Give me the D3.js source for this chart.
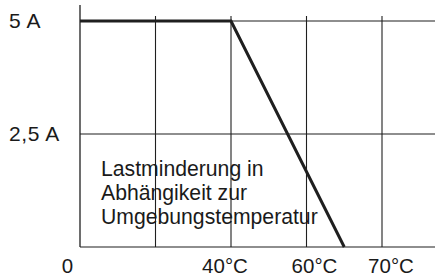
<!DOCTYPE html>
<html>
<head>
<meta charset="utf-8">
<script src="https://cdn.jsdelivr.net/npm/d3@7"></script>
<style>
  html, body { margin: 0; padding: 0; background: #fff; }
  svg { display: block; }
  text { font-family: "Liberation Sans", Arial, sans-serif; fill: #1a1a1a; }
</style>
</head>
<body>
<svg id="chart" width="435" height="276"></svg>
<script>
// Data
const temperatures = [0, 40, 70];          // °C
const currents = [5, 5, 0];                // A
const xGridValues = [0, 20, 40, 60, 80];
const xTickValues = [0, 40, 60, 80];
const xTickLabels = ["0", "40°C", "60°C", "70°C"];
const yTickValues = [5, 2.5];
const yTickLabels = ["5 A", "2,5 A"];
const noteLines = ["Lastminderung in", "Abhängikeit zur", "Umgebungstemperatur"];

const W = 435, H = 276;
const svg = d3.select("#chart");

const x = d3.scaleLinear().domain([0, 80]).range([80, 382]);
const y = d3.scaleLinear().domain([0, 5]).range([247, 21]);

const ink = "#1f1f1f";

// horizontal lines (grid + bottom axis)
svg.append("g").selectAll("line")
  .data([0, ...yTickValues])
  .join("line")
  .attr("x1", x(0)).attr("x2", W)
  .attr("y1", d => y(d)).attr("y2", d => y(d))
  .attr("stroke", ink).attr("stroke-width", 1.2);

// vertical grid lines
svg.append("g").selectAll("line")
  .data(xGridValues.slice(1))
  .join("line")
  .attr("x1", d => x(d)).attr("x2", d => x(d))
  .attr("y1", 16).attr("y2", y(0))
  .attr("stroke", ink).attr("stroke-width", 1.1);

// y axis line
svg.append("line")
  .attr("x1", x(0)).attr("x2", x(0))
  .attr("y1", 5).attr("y2", y(0))
  .attr("stroke", ink).attr("stroke-width", 1.3);

// derating curve
const line = d3.line().x(d => x(d[0])).y(d => y(d[1]));
svg.append("path")
  .datum(temperatures.map((t, i) => [t, currents[i]]))
  .attr("d", line)
  .attr("fill", "none")
  .attr("stroke", ink)
  .attr("stroke-width", 3)
  .attr("stroke-linejoin", "miter")
  .attr("stroke-linecap", "butt");

// y tick labels
svg.append("g").selectAll("text")
  .data(yTickValues)
  .join("text")
  .attr("x", 9)
  .attr("y", d => y(d) + 7)
  .attr("font-size", 21)
  .attr("letter-spacing", 0.6)
  .text((d, i) => yTickLabels[i]);

// x tick labels
const xLabelShift = [-12.5, -6, 8, 9];
svg.append("g").selectAll("text")
  .data(xTickValues)
  .join("text")
  .attr("x", (d, i) => x(d) + xLabelShift[i])
  .attr("y", 273)
  .attr("text-anchor", "middle")
  .attr("font-size", 20.5)
  .text((d, i) => xTickLabels[i]);

// note
svg.append("g").selectAll("text")
  .data(noteLines)
  .join("text")
  .attr("x", 101)
  .attr("y", (d, i) => 176 + i * 24)
  .attr("font-size", 21.2)
  .text(d => d);
</script>
</body>
</html>
